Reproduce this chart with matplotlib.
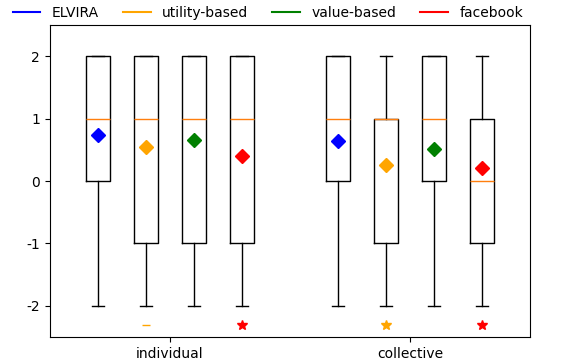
import numpy as np
import matplotlib.pyplot as plt

plt.rcParams['axes.unicode_minus'] = False

groups = ["individual", "collective"]
methods = ["ELVIRA", "utility-based", "value-based", "facebook"]
colors = ["blue", "orange", "green", "red"]

# box statistics per group, per method
q1 = [[0, -1, -1, -1], [0, -1, 0, -1]]
med = [[1, 1, 1, 1], [1, 1, 1, 0]]
q3 = [[2, 2, 2, 2], [2, 1, 2, 1]]
whislo = [[-2, -2, -2, -2], [-2, -2, -2, -2]]
whishi = [[2, 2, 2, 2], [2, 2, 2, 2]]
means = [[0.74, 0.54, 0.66, 0.40], [0.65, 0.26, 0.51, 0.21]]

# significance markers below the boxes
sig_markers = [[None, "_", None, "*"], [None, "*", None, "*"]]
sig_y = -2.3

fig = plt.figure(figsize=(5.61, 3.64), dpi=100)
ax = fig.add_axes([0.089, 0.074, 0.856, 0.857])

offsets = np.array([-1.5, -0.5, 0.5, 1.5])
centers = np.array([0, 5])

for g in range(len(groups)):
    stats = []
    for m in range(len(methods)):
        stats.append(dict(q1=q1[g][m], med=med[g][m], q3=q3[g][m],
                          whislo=whislo[g][m], whishi=whishi[g][m], fliers=[]))
    pos = centers[g] + offsets
    ax.bxp(stats, positions=pos, widths=0.5, showfliers=False,
           medianprops=dict(color="#ff7f0e"))
    for m in range(len(methods)):
        ax.plot(pos[m], means[g][m], marker="D", color=colors[m],
                markersize=7, linestyle="none")
        if sig_markers[g][m] is not None:
            ax.plot(pos[m], sig_y, marker=sig_markers[g][m], color=colors[m],
                    markersize=7 if sig_markers[g][m] == "*" else 6,
                    linestyle="none")

ax.set_xlim(-2.5, 7.5)
ax.set_ylim(-2.5, 2.5)
ax.set_xticks(centers)
ax.set_xticklabels(groups)
ax.set_yticks([-2, -1, 0, 1, 2])

handles = [plt.Line2D([], [], color=c) for c in colors]
fig.legend(handles, methods, loc="upper left", ncol=4, frameon=False,
           bbox_to_anchor=(0.0, 1.017), columnspacing=1.75)

fig.savefig("out.png")
